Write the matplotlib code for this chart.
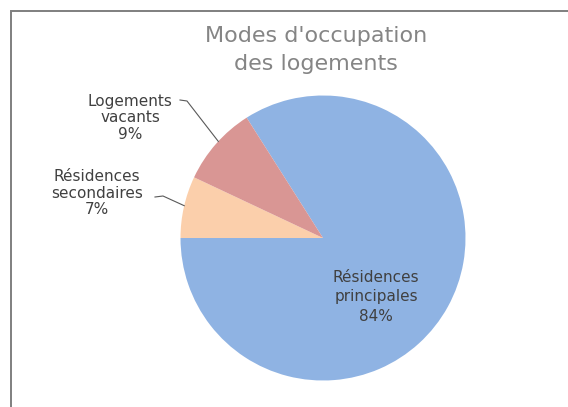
import matplotlib
matplotlib.use("Agg")
import matplotlib.pyplot as plt
import numpy as np
from matplotlib.patches import Rectangle

# data (clockwise from the top-left, as in the Excel chart)
labels = ["Résidences\nprincipales", "Résidences\nsecondaires", "Logements\nvacants"]
shares = [84, 7, 9]
colours = ["#8FB3E3", "#FBCFAB", "#D99694"]

W, H = 568, 407
FONT = ["DejaVu Sans"]

fig = plt.figure(figsize=(W / 100, H / 100), dpi=100)
ax = fig.add_axes([0, 0, 1, 1])

# chart frame (only top and left edges visible in the crop)
ax.add_patch(Rectangle((10.5, -20), W + 40, H - 10.5 + 20, fill=False,
                       ec="#7f7f7f", lw=1.4))

cx, cy, r = 323, H - 238, 142.5
start = 90 - (360 - shares[2] * 3.6)   # vacants slice ends at the top-left
wedges, _ = ax.pie(shares, colors=colours, center=(cx, cy), radius=r,
                   startangle=start, counterclock=False,
                   wedgeprops=dict(linewidth=0), frame=True)
ax.set_xlim(0, W)
ax.set_ylim(0, H)
ax.set_aspect("equal")
ax.axis("off")

ax.text(316, H - 50, "Modes d'occupation\ndes logements", ha="center",
        va="center", fontsize=16, color="#858585", family=FONT,
        linespacing=1.5)

txt = dict(ha="center", va="center", fontsize=11, color="#404040",
           family=FONT)
lab_pos = [(376, H - 297), (97, H - 193), (130, H - 118)]
spacing = [1.4, 1.15, 1.15]
for lab, v, (tx, ty), ls in zip(labels, shares, lab_pos, spacing):
    ax.text(tx, ty, f"{lab}\n{v}%", linespacing=ls, **txt)

# leader lines for the small slices
def edge_point(w, frac=0.5):
    ang = np.deg2rad(w.theta1 + (w.theta2 - w.theta1) * frac)
    return cx + r * np.cos(ang), cy + r * np.sin(ang)

ex, ey = edge_point(wedges[2], 0.46)
ax.plot([180, 187, ex], [H - 100, H - 101, ey], color="#595959", lw=0.8)
ex, ey = edge_point(wedges[1], 0.48)
ax.plot([155, 163, ex], [H - 197, H - 196, ey], color="#595959", lw=0.8)

fig.savefig("out.png", dpi=100)
